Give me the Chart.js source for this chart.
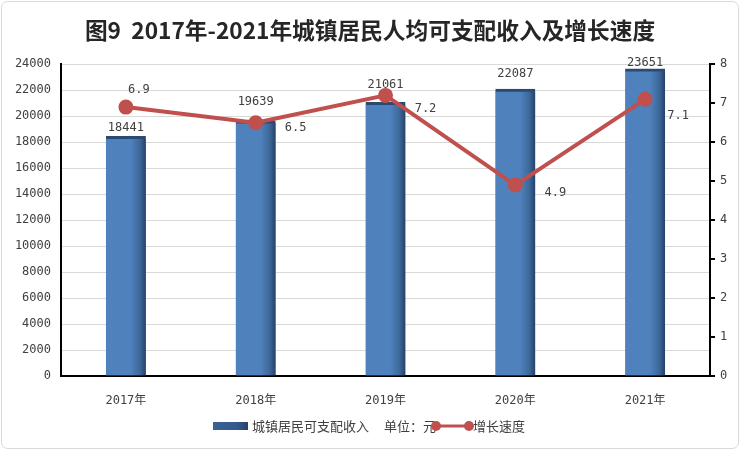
<!DOCTYPE html>
<html>
<head>
<meta charset="utf-8">
<script src="https://cdn.jsdelivr.net/npm/chart.js@4.4.1/dist/chart.umd.min.js"></script>
<style>
  html, body { margin: 0; padding: 0; background: #fff; }
  #wrap { width: 740px; height: 450px; }
</style>
</head>
<body>
<div id="wrap"><canvas id="incomeChart" width="740" height="450"></canvas></div>
<script>
// data
const years = ['2017年', '2018年', '2019年', '2020年', '2021年'];
const income = [18441, 19639, 21061, 22087, 23651];   // 城镇居民可支配收入（元）
const growth = [6.9, 6.5, 7.2, 4.9, 7.1];             // 增长速度（%）

// label nudges (px) so the numbers sit where the original put them
const barLabelShift = [-9, -19, -18, -15, -6];
const lineLabelShift = [[13, -17], [40, 5], [40, 13], [40, 8], [33, 17]];

const BAR_W = 40;
const textColor = '#404040';
const numFont = { family: '"DejaVu Sans Mono", "Noto Sans CJK SC"', size: 12 };

Chart.defaults.font.family = numFont.family;
Chart.defaults.color = textColor;

function barFill(c) {
  const chart = c.chart;
  if (!chart.chartArea) return '#4f81bd';
  const x = chart.scales.x.getPixelForValue(c.dataIndex);
  const g = chart.ctx.createLinearGradient(x - BAR_W / 2, 0, x + BAR_W / 2, 0);
  g.addColorStop(0, '#4f81bd');
  g.addColorStop(0.62, '#4f81bd');
  g.addColorStop(0.85, '#3d6899');
  g.addColorStop(1, '#25416a');
  return g;
}

const frame = {
  id: 'frame',
  beforeDraw(chart) {
    const ctx = chart.ctx;
    ctx.save();
    ctx.fillStyle = '#fff';
    ctx.fillRect(0, 0, chart.width, chart.height);
    ctx.strokeStyle = '#d9d9d9';
    ctx.lineWidth = 1;
    ctx.beginPath();
    ctx.roundRect(1.5, 1.5, chart.width - 3, chart.height - 3, 6);
    ctx.stroke();
    ctx.restore();
  }
};

const valueLabels = {
  id: 'valueLabels',
  afterDatasetsDraw(chart) {
    const ctx = chart.ctx;
    ctx.save();
    ctx.font = '12px ' + numFont.family;
    ctx.fillStyle = textColor;
    ctx.textAlign = 'center';
    ctx.textBaseline = 'middle';
    chart.getDatasetMeta(0).data.forEach((bar, i) => {
      ctx.fillText(String(income[i]), bar.x, bar.y + barLabelShift[i]);
    });
    chart.getDatasetMeta(1).data.forEach((pt, i) => {
      const [dx, dy] = lineLabelShift[i];
      ctx.fillText(growth[i].toFixed(1), pt.x + dx, pt.y + dy);
    });
    ctx.restore();
  }
};

const legendRow = {
  id: 'legendRow',
  afterDraw(chart) {
    const ctx = chart.ctx;
    const y = 426;
    ctx.save();
    const g = ctx.createLinearGradient(213, 0, 248, 0);
    g.addColorStop(0, '#3a6294');
    g.addColorStop(0.7, '#34598a');
    g.addColorStop(1, '#25416a');
    ctx.fillStyle = g;
    ctx.fillRect(213, y - 4, 35, 8);

    ctx.font = '13px "Noto Sans CJK SC"';
    ctx.fillStyle = textColor;
    ctx.textBaseline = 'middle';
    ctx.fillText('城镇居民可支配收入', 252, y);
    ctx.fillText('单位：元', 384, y);
    ctx.fillText('增长速度', 473, y);

    ctx.strokeStyle = '#c0504d';
    ctx.fillStyle = '#c0504d';
    ctx.lineWidth = 3;
    ctx.beginPath();
    ctx.moveTo(436, y);
    ctx.lineTo(469, y);
    ctx.stroke();
    [436, 469].forEach(x => {
      ctx.beginPath();
      ctx.arc(x, y, 5, 0, Math.PI * 2);
      ctx.fill();
    });
    ctx.restore();
  }
};

new Chart(document.getElementById('incomeChart'), {
  data: {
    labels: years,
    datasets: [{
      type: 'bar',
      label: '城镇居民可支配收入',
      data: income,
      yAxisID: 'y',
      order: 2,
      barThickness: BAR_W,
      backgroundColor: barFill,
      borderColor: '#2b4a72',
      borderWidth: { top: 3, left: 0, right: 0, bottom: 0 },
      borderSkipped: 'start'
    }, {
      type: 'line',
      label: '增长速度',
      data: growth,
      yAxisID: 'y1',
      order: 1,
      borderColor: '#c0504d',
      backgroundColor: '#c0504d',
      borderWidth: 4,
      pointRadius: 5.5,
      pointHoverRadius: 5.5,
      tension: 0
    }]
  },
  options: {
    responsive: false,
    animation: false,
    layout: { padding: { left: 0, right: 0, top: 0, bottom: 44 } },
    plugins: {
      legend: { display: false },
      tooltip: { enabled: false },
      title: {
        display: true,
        text: '图9  2017年-2021年城镇居民人均可支配收入及增长速度',
        color: '#262626',
        font: { family: '"Noto Sans CJK SC"', size: 22.7, weight: 'bold' },
        padding: { top: 17, bottom: 20 }
      }
    },
    scales: {
      x: {
        grid: { display: false },
        border: { color: '#000', width: 2 },
        ticks: { font: numFont, color: textColor, padding: 10 },
        afterFit(s) { s.height = 30; }
      },
      y: {
        position: 'left',
        min: 0,
        max: 24000,
        ticks: { stepSize: 2000, font: numFont, color: textColor, padding: 10, callback: v => String(v) },
        grid: { color: '#d9d9d9', drawTicks: false },
        border: { color: '#000', width: 2 },
        afterFit(s) { s.width = 61; }
      },
      y1: {
        position: 'right',
        min: 0,
        max: 8,
        ticks: { stepSize: 1, font: numFont, color: textColor, padding: 5, callback: v => String(v) },
        grid: { drawOnChartArea: false, color: '#000', tickLength: 5, lineWidth: 2 },
        border: { color: '#000', width: 2 },
        afterFit(s) { s.width = 30; }
      }
    }
  },
  plugins: [frame, valueLabels, legendRow]
});
</script>
</body>
</html>
